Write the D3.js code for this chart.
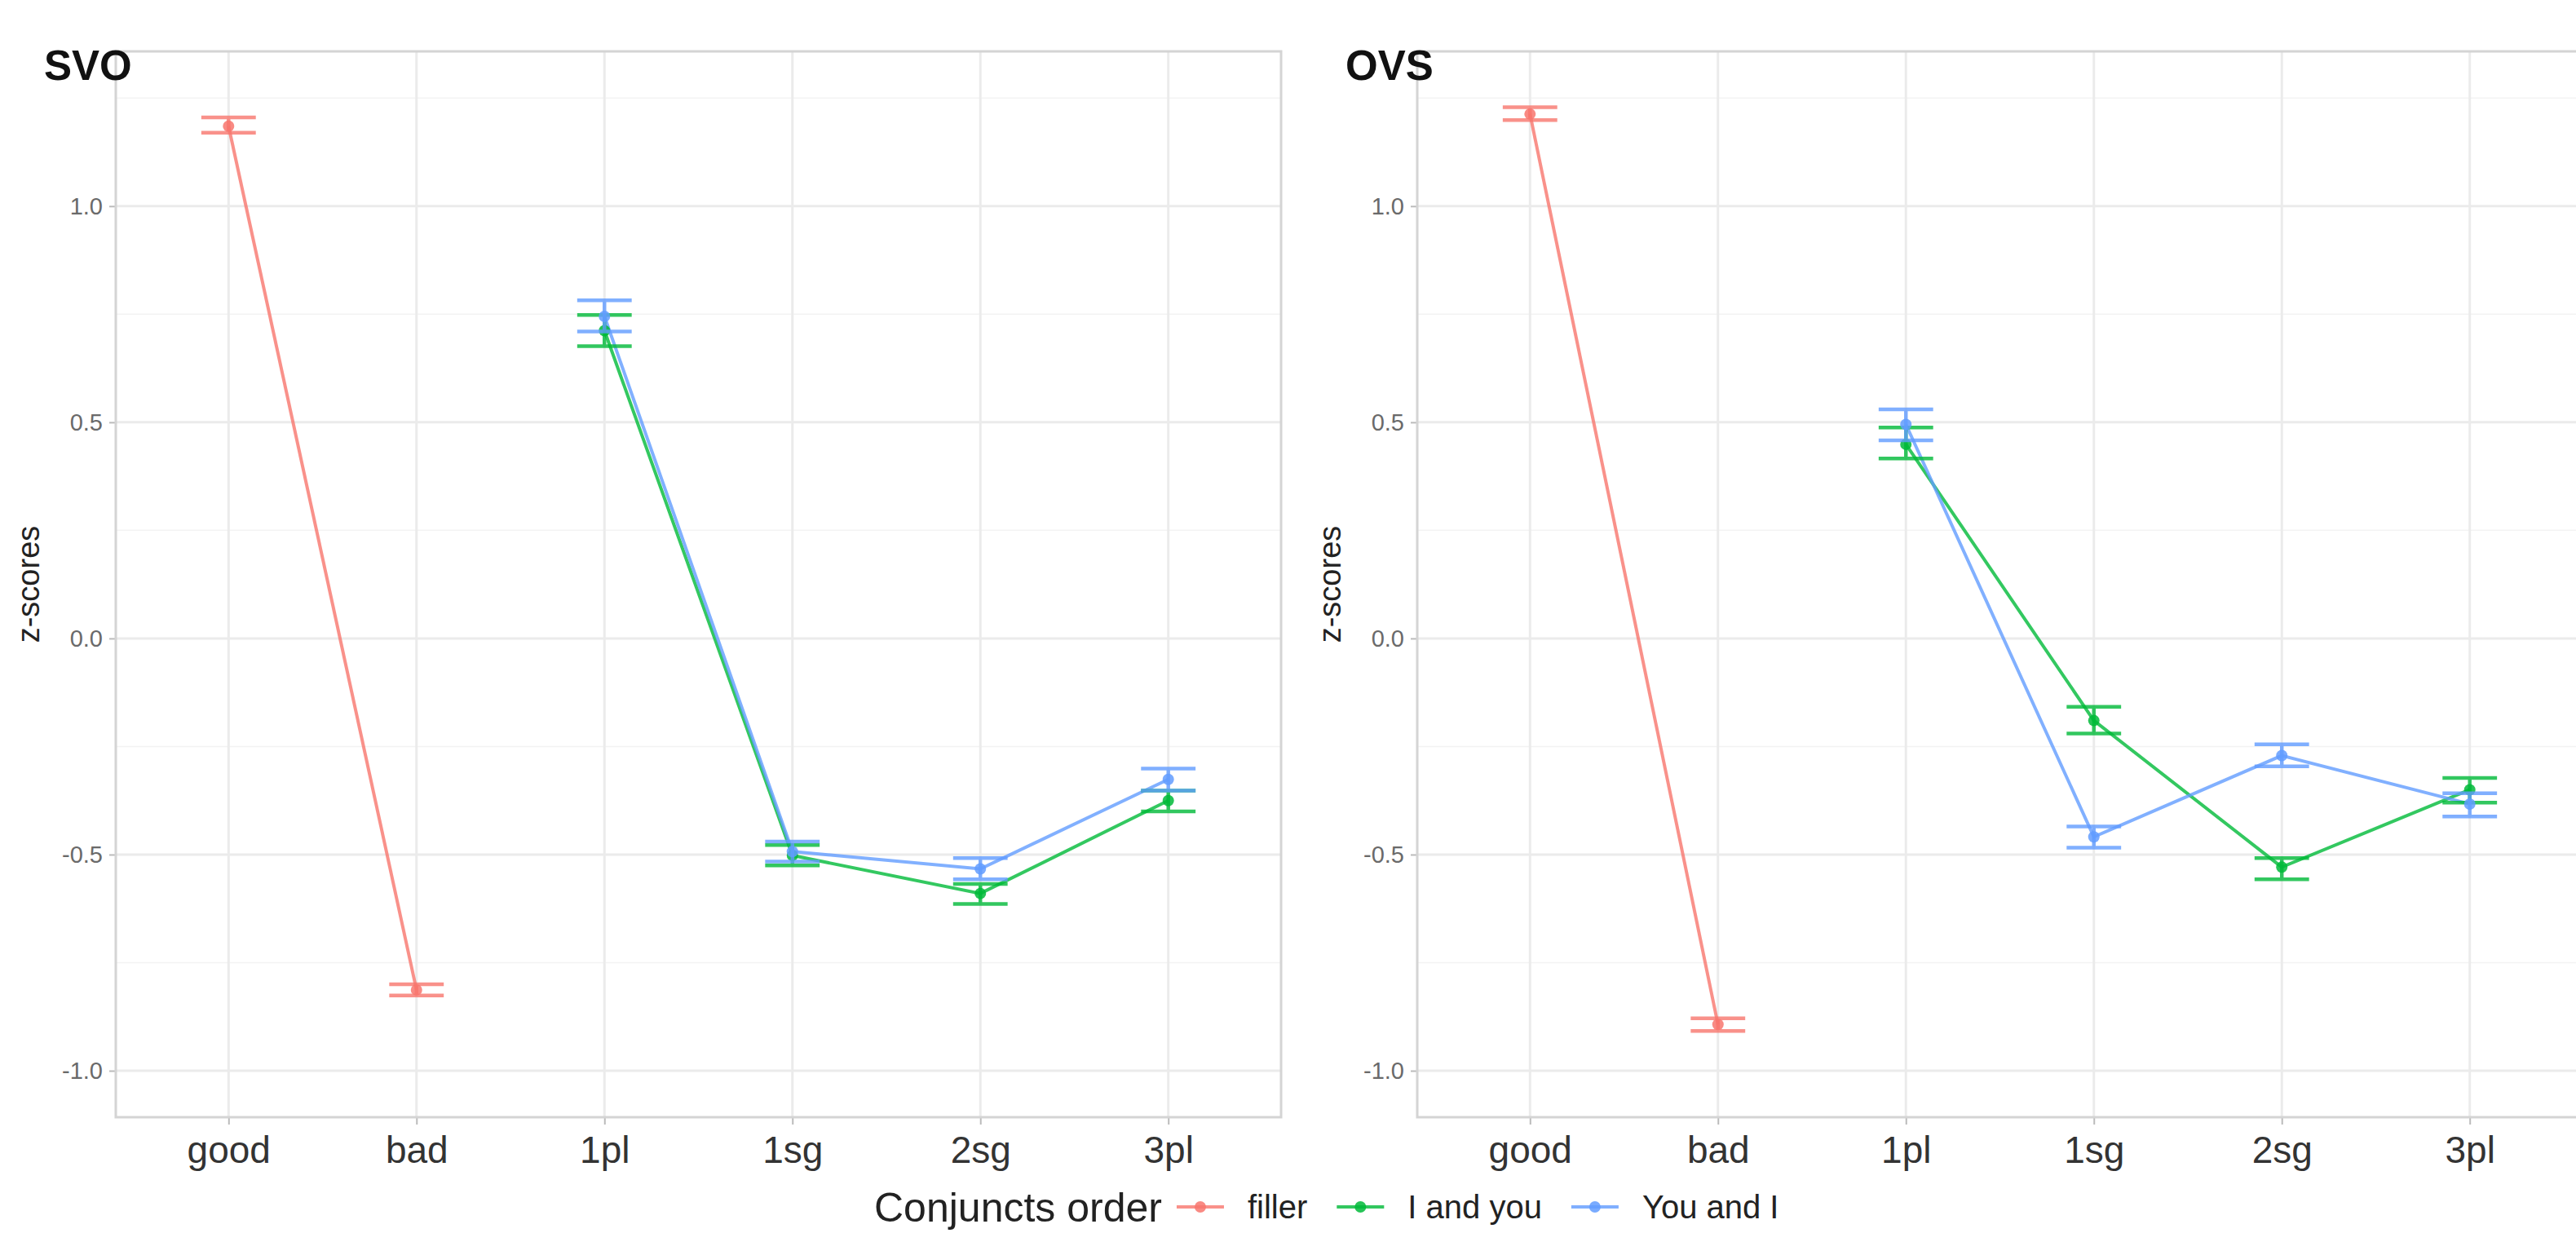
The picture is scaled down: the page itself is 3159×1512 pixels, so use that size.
<!DOCTYPE html>
<html>
<head>
<meta charset="utf-8">
<script src="https://cdn.jsdelivr.net/npm/d3@7"></script>
<style>
  body { margin: 0; background: #fff; }
  text { font-family: 'Liberation Sans', Arial, sans-serif; }
</style>
</head>
<body>
<svg id="chart" width="3159" height="1512"></svg>
<script>
// categories
const conditions = ['good', 'bad', '1pl', '1sg', '2sg', '3pl']
const fillerConds = ['good', 'bad']
const pronounConds = ['1pl', '1sg', '2sg', '3pl']
const groups = ['filler', 'I and you', 'You and I']
const yTicks = [-1, -0.5, 0, 0.5, 1]
const yMinor = [-0.75, -0.25, 0.25, 0.75, 1.25]

// SVO values (mean and error bar limits)
const svoFillerMean = [1.185, -0.813]
const svoFillerLo = [1.170, -0.826]
const svoFillerHi = [1.205, -0.800]
const svoIYouMean = [0.712, -0.502, -0.590, -0.375]
const svoIYouLo = [0.676, -0.525, -0.614, -0.400]
const svoIYouHi = [0.748, -0.478, -0.568, -0.352]
const svoYouIMean = [0.745, -0.493, -0.533, -0.326]
const svoYouILo = [0.710, -0.516, -0.557, -0.352]
const svoYouIHi = [0.782, -0.470, -0.508, -0.301]

// OVS values
const ovsFillerMean = [1.213, -0.893]
const ovsFillerLo = [1.199, -0.908]
const ovsFillerHi = [1.229, -0.879]
const ovsIYouMean = [0.449, -0.190, -0.529, -0.350]
const ovsIYouLo = [0.416, -0.220, -0.557, -0.380]
const ovsIYouHi = [0.488, -0.158, -0.508, -0.323]
const ovsYouIMean = [0.495, -0.459, -0.271, -0.383]
const ovsYouILo = [0.458, -0.484, -0.296, -0.412]
const ovsYouIHi = [0.530, -0.435, -0.245, -0.358]

const colors = { 'filler': '#F8766D', 'I and you': '#00BA38', 'You and I': '#619CFF' }

function makeSeries(group, conds, mean, lo, hi) {
  return {
    group: group,
    values: conds.map((c, i) => ({ cond: c, mean: mean[i], lo: lo[i], hi: hi[i] }))
  }
}

const panels = [
  {
    title: 'SVO',
    left: 142,
    series: [
      makeSeries('filler', fillerConds, svoFillerMean, svoFillerLo, svoFillerHi),
      makeSeries('I and you', pronounConds, svoIYouMean, svoIYouLo, svoIYouHi),
      makeSeries('You and I', pronounConds, svoYouIMean, svoYouILo, svoYouIHi)
    ]
  },
  {
    title: 'OVS',
    left: 1738,
    series: [
      makeSeries('filler', fillerConds, ovsFillerMean, ovsFillerLo, ovsFillerHi),
      makeSeries('I and you', pronounConds, ovsIYouMean, ovsIYouLo, ovsIYouHi),
      makeSeries('You and I', pronounConds, ovsYouIMean, ovsYouILo, ovsYouIHi)
    ]
  }
]

var marginTop = 63
var panelHeight = 1370 - marginTop
var panelWidth = 1429

var svg = d3.select('#chart')

var yScale = d3.scaleLinear().domain([-1.1075, 1.358]).range([panelHeight, 0])

panels.forEach(function(p) {
  var xScale = d3.scalePoint().domain(conditions).range([0, panelWidth]).padding(0.6)
  var barW = xScale.step() * 0.29

  var g = svg.append('g').attr('transform', 'translate(' + p.left + ',' + marginTop + ')')

  // grid
  g.selectAll('.minor')
    .data(yMinor)
    .enter()
    .append('line')
    .attr('x1', 0)
    .attr('x2', panelWidth)
    .attr('y1', d => yScale(d))
    .attr('y2', d => yScale(d))
    .attr('stroke', '#f3f3f3')
    .attr('stroke-width', 1.5)

  g.selectAll('.hmajor')
    .data(yTicks)
    .enter()
    .append('line')
    .attr('x1', 0)
    .attr('x2', panelWidth)
    .attr('y1', d => yScale(d))
    .attr('y2', d => yScale(d))
    .attr('stroke', '#ebebeb')
    .attr('stroke-width', 3)

  g.selectAll('.vmajor')
    .data(conditions)
    .enter()
    .append('line')
    .attr('x1', d => xScale(d))
    .attr('x2', d => xScale(d))
    .attr('y1', 0)
    .attr('y2', panelHeight)
    .attr('stroke', '#ebebeb')
    .attr('stroke-width', 3)

  // axes
  var yAxis = d3.axisLeft(yScale).tickValues(yTicks).tickFormat(d => d.toFixed(1)).tickSize(8).tickPadding(8)
  var ya = g.append('g').call(yAxis)
  ya.select('.domain').remove()
  ya.selectAll('line').attr('stroke', '#bbbbbb').attr('stroke-width', 2)
  ya.selectAll('text').attr('font-size', 29).attr('fill', '#6a6a6a').style('font-family', 'Liberation Sans, Arial, sans-serif')

  var xAxis = d3.axisBottom(xScale).tickSize(9).tickPadding(14)
  var xa = g.append('g').attr('transform', 'translate(0,' + panelHeight + ')').call(xAxis)
  xa.select('.domain').remove()
  xa.selectAll('line').attr('stroke', '#bbbbbb').attr('stroke-width', 2)
  xa.selectAll('text').attr('font-size', 46).attr('fill', '#333333').style('font-family', 'Liberation Sans, Arial, sans-serif')

  // panel border
  g.append('rect')
    .attr('x', 0)
    .attr('y', 0)
    .attr('width', panelWidth)
    .attr('height', panelHeight)
    .attr('fill', 'none')
    .attr('stroke', '#d4d4d4')
    .attr('stroke-width', 3)

  var line = d3.line().x(d => xScale(d.cond)).y(d => yScale(d.mean))

  // lines
  g.selectAll('.series-line')
    .data(p.series)
    .enter()
    .append('path')
    .attr('d', d => line(d.values))
    .attr('fill', 'none')
    .attr('stroke', d => colors[d.group])
    .attr('stroke-width', 4)
    .attr('opacity', 0.8)

  // error bars and points
  p.series.forEach(function(s) {
    var c = colors[s.group]
    var eb = g.append('g').attr('stroke', c).attr('stroke-width', 4.5).attr('opacity', 0.8)
    s.values.forEach(function(v) {
      var cx = xScale(v.cond)
      eb.append('line').attr('x1', cx).attr('x2', cx).attr('y1', yScale(v.lo)).attr('y2', yScale(v.hi))
      eb.append('line').attr('x1', cx - barW / 2).attr('x2', cx + barW / 2).attr('y1', yScale(v.lo)).attr('y2', yScale(v.lo))
      eb.append('line').attr('x1', cx - barW / 2).attr('x2', cx + barW / 2).attr('y1', yScale(v.hi)).attr('y2', yScale(v.hi))
    })
    g.selectAll('.pt-' + s.group.replace(/ /g, ''))
      .data(s.values)
      .enter()
      .append('circle')
      .attr('cx', d => xScale(d.cond))
      .attr('cy', d => yScale(d.mean))
      .attr('r', 7)
      .attr('fill', c)
      .attr('opacity', 0.85)
  })

  // y axis title
  svg.append('text')
    .text('z-scores')
    .attr('transform', 'translate(' + (p.left - 94) + ',' + (marginTop + panelHeight / 2) + ') rotate(-90)')
    .attr('text-anchor', 'middle')
    .attr('font-size', 38)
    .attr('fill', '#222')

  // panel title
  svg.append('text')
    .text(p.title)
    .attr('x', p.left - 88)
    .attr('y', 98)
    .attr('font-size', 51)
    .attr('font-weight', 'bold')
    .attr('fill', '#111')
})

// legend
var legend = svg.append('g')
var lx = 1072
var ly = 1480
var lt = legend.append('text')
  .text('Conjuncts order')
  .attr('x', lx)
  .attr('y', ly)
  .attr('dy', '0.35em')
  .attr('font-size', 50)
  .attr('fill', '#222')
lx += lt.node().getComputedTextLength() + 18

groups.forEach(function(grp) {
  legend.append('line')
    .attr('x1', lx)
    .attr('x2', lx + 58)
    .attr('y1', ly)
    .attr('y2', ly)
    .attr('stroke', colors[grp])
    .attr('stroke-width', 4)
    .attr('opacity', 0.8)
  legend.append('circle')
    .attr('cx', lx + 29)
    .attr('cy', ly)
    .attr('r', 7)
    .attr('fill', colors[grp])
    .attr('opacity', 0.85)
  lx += 58 + 29
  var t = legend.append('text')
    .text(grp)
    .attr('x', lx)
    .attr('y', ly)
    .attr('dy', '0.35em')
    .attr('font-size', 40)
    .attr('fill', '#222')
  lx += t.node().getComputedTextLength() + 36
})
</script>
</body>
</html>
